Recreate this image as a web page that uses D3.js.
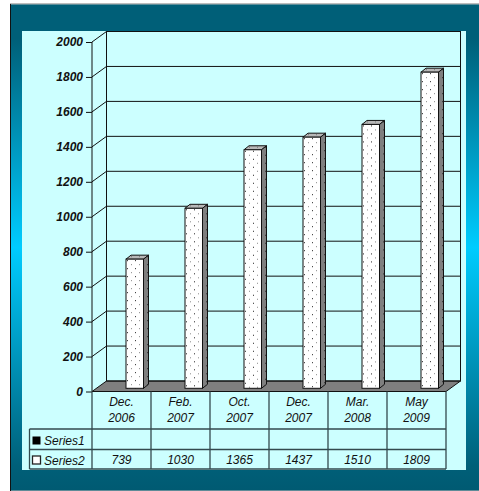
<!DOCTYPE html>
<html>
<head>
<meta charset="utf-8">
<script src="https://cdn.jsdelivr.net/npm/d3@7"></script>
<style>
html, body { margin: 0; padding: 0; background: #fff; overflow: hidden; }
text { font-family: "Liberation Sans", Arial, sans-serif; font-style: italic; fill: #111; }
</style>
</head>
<body>
<svg id="chart" width="479" height="491"></svg>
<script>
let categories = [['Dec.', '2006'], ['Feb.', '2007'], ['Oct.', '2007'], ['Dec.', '2007'], ['Mar.', '2008'], ['May', '2009']];
let series1 = [null, null, null, null, null, null];
let series2 = [739, 1030, 1365, 1437, 1510, 1809];
let y_ticks = [0, 200, 400, 600, 800, 1000, 1200, 1400, 1600, 1800, 2000];

let svg = d3.select('#chart');
let defs = svg.append('defs');

// frame gradient
let grad = defs.append('linearGradient')
    .attr('id', 'frame')
    .attr('x1', 0).attr('y1', 0).attr('x2', 0).attr('y2', 1);
grad.append('stop').attr('offset', '0').attr('stop-color', '#005f78');
grad.append('stop').attr('offset', '0.07').attr('stop-color', '#005f78');
grad.append('stop').attr('offset', '0.5').attr('stop-color', '#00ccff');
grad.append('stop').attr('offset', '0.95').attr('stop-color', '#005f78');
grad.append('stop').attr('offset', '1').attr('stop-color', '#005a72');

function dots(id, bg, fg, fg2) {
    let p = defs.append('pattern')
        .attr('id', id)
        .attr('patternUnits', 'userSpaceOnUse')
        .attr('width', 8).attr('height', 8);
    p.append('rect').attr('width', 8).attr('height', 8).attr('fill', bg);
    p.append('rect').attr('x', 1).attr('y', 1).attr('width', 1).attr('height', 1).attr('fill', fg);
    p.append('rect').attr('x', 5).attr('y', 5).attr('width', 1).attr('height', 1).attr('fill', fg2);
}
dots('dotFront', '#ffffff', '#222222', '#888888');
dots('dotSide', '#7f7f7f', '#222222', '#333333');
dots('dotTop', '#b8b8b8', '#777777', '#777777');

// depth of the 3d box
let dx = 14.5, dy = 10.5;
let left = 92, right = 446;
let y0 = 391.5, y1 = 42;

let x = d3.scaleBand()
    .domain(d3.range(categories.length))
    .range([left, right]);
let y = d3.scaleLinear()
    .domain([0, 2000])
    .range([y0, y1]);

// background
svg.append('rect')
    .attr('x', 10).attr('y', 3).attr('width', 469).attr('height', 488)
    .attr('fill', '#bdbdbd');
svg.append('rect')
    .attr('x', 10.5).attr('y', 4.5).attr('width', 468.5).attr('height', 486)
    .attr('fill', 'url(#frame)');
svg.append('line')
    .attr('x1', 10.5).attr('x2', 10.5).attr('y1', 4).attr('y2', 491)
    .attr('stroke', '#111');
svg.append('rect')
    .attr('x', 22).attr('y', 31).attr('width', 444).attr('height', 439)
    .attr('fill', '#ccffff');

// floor
svg.append('path')
    .attr('d', `M${left},${y0}L${left+dx},${y0-dy}H${right+dx}L${right},${y0}Z`)
    .attr('fill', '#7f7f7f').attr('stroke', '#111');

// back wall and gridlines
svg.append('rect')
    .attr('x', left + dx).attr('y', y(2000) - dy)
    .attr('width', right - left).attr('height', y0 - y(2000))
    .attr('fill', 'none').attr('stroke', '#111');
let grid = svg.append('g');
grid.selectAll('line.h')
    .data(y_ticks.slice(1, -1))
    .enter().append('line')
    .attr('x1', left + dx).attr('x2', right + dx)
    .attr('y1', d => y(d) - dy).attr('y2', d => y(d) - dy)
    .attr('stroke', '#111');
grid.selectAll('line.d')
    .data(y_ticks.slice(1))
    .enter().append('line')
    .attr('x1', left).attr('x2', left + dx)
    .attr('y1', d => y(d)).attr('y2', d => y(d) - dy)
    .attr('stroke', '#111');

// y axis
let axis_y = d3.axisLeft(y).tickValues(y_ticks).tickSize(6).tickPadding(3).tickFormat(d3.format('d'));
let gy = svg.append('g')
    .attr('transform', `translate(${left},0)`)
    .call(axis_y);
gy.selectAll('path,line').attr('stroke', '#111');
gy.select('.domain').attr('d', `M0,${y1}V${y0}`);
gy.selectAll('text')
    .attr('font-size', 12)
    .attr('font-weight', 'bold')
    .style('font-family', '"Liberation Sans", Arial, sans-serif')
    .style('font-style', 'italic');

// bars
let barW = 17.5, barDx = 5, barDy = 4, lift = 3.2, barOff = 34;
let bars = svg.append('g')
    .selectAll('g')
    .data(series2)
    .enter().append('g')
    .attr('transform', (d, i) => `translate(${x(i) + barOff},${y(d) - lift})`);
bars.append('path')
    .attr('d', `M0,0L${barDx},${-barDy}H${barW+barDx}L${barW},0Z`)
    .attr('fill', 'url(#dotTop)').attr('stroke', '#111');
bars.append('path')
    .attr('d', d => `M${barW},0L${barW+barDx},${-barDy}V${y0-y(d)-barDy}L${barW},${y0-y(d)}Z`)
    .attr('fill', 'url(#dotSide)').attr('stroke', '#111');
bars.append('rect')
    .attr('width', barW)
    .attr('height', d => y0 - y(d))
    .attr('fill', 'url(#dotFront)').attr('stroke', '#111');

// data table
let rows = [391.5, 429, 449.5, 469];
let tableLeft = 29.5;
let table = svg.append('g').attr('stroke', '#33494e').attr('stroke-width', 1.3);
table.selectAll('line.col')
    .data(d3.range(categories.length + 1))
    .enter().append('line')
    .attr('x1', i => left + i * x.bandwidth())
    .attr('x2', i => left + i * x.bandwidth())
    .attr('y1', rows[0]).attr('y2', rows[3]);
table.selectAll('line.row')
    .data(rows.slice(1))
    .enter().append('line')
    .attr('x1', tableLeft).attr('x2', right)
    .attr('y1', d => d).attr('y2', d => d);
table.append('line')
    .attr('x1', tableLeft).attr('x2', tableLeft)
    .attr('y1', rows[1]).attr('y2', rows[3]);

categories.forEach((c, i) => {
    let cx = x(i) + x.bandwidth() / 2;
    svg.append('text').attr('x', cx).attr('y', 406).attr('text-anchor', 'middle').attr('font-size', 12).text(c[0]);
    svg.append('text').attr('x', cx).attr('y', 422).attr('text-anchor', 'middle').attr('font-size', 12).text(c[1]);
    svg.append('text').attr('x', cx).attr('y', 464).attr('text-anchor', 'middle').attr('font-size', 12).text(series2[i]);
});

// legend keys
svg.append('rect').attr('x', 32.5).attr('y', 436.5).attr('width', 8).attr('height', 8).attr('fill', '#000');
svg.append('rect').attr('x', 32.5).attr('y', 456).attr('width', 8).attr('height', 8).attr('fill', '#fff').attr('stroke', '#222').attr('stroke-width', 1.3);
svg.append('text').attr('x', 44).attr('y', 445).attr('font-size', 12).text('Series1');
svg.append('text').attr('x', 44).attr('y', 465).attr('font-size', 12).text('Series2');
</script>
</body>
</html>
